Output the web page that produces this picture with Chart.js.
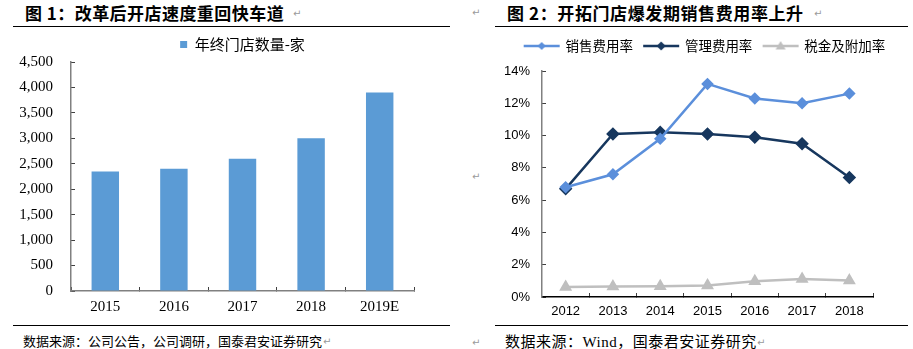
<!DOCTYPE html>
<html><head><meta charset="utf-8">
<script src="https://cdn.jsdelivr.net/npm/chart.js@4.4.1/dist/chart.umd.min.js"></script>
<style>
html,body{margin:0;padding:0;background:#fff;}
body{width:913px;height:349px;position:relative;overflow:hidden;font-family:"Noto Sans CJK SC",sans-serif;}
.t{position:absolute;white-space:nowrap;line-height:1;}
.title{font-weight:700;font-size:17px;color:#000;}
.foot{font-size:13px;color:#000;}
.rule{position:absolute;height:1px;background:#000;}
.pm{position:absolute;font-size:10px;color:#9a9a9a;font-family:"DejaVu Sans",sans-serif;line-height:1;}
#c1{position:absolute;left:0;top:27px;}
#c2{position:absolute;left:460px;top:28px;}
</style></head>
<body>
<div class="t title" style="left:25px;top:4px;letter-spacing:0.45px;">图 1：改革后开店速度重回快车道</div>
<div class="t title" style="left:507px;top:4px;letter-spacing:0.6px;">图 2：开拓门店爆发期销售费用率上升</div>
<div class="rule" style="left:13px;top:26px;width:437px;"></div>
<div class="rule" style="left:495px;top:26px;width:413px;"></div>
<div class="rule" style="left:13px;top:325px;width:437px;"></div>
<div class="rule" style="left:495px;top:325px;width:413px;"></div>
<div class="t foot" style="left:23px;top:334px;">数据来源：公司公告，公司调研，国泰君安证券研究</div>
<div class="t foot" style="left:505px;top:333px;font-size:15px;letter-spacing:0.5px;">数据来源：<span style="font-family:'Liberation Serif',serif;">Wind</span>，国泰君安证券研究</div>
<span class="pm" style="left:293px;top:9px;">↵</span>
<span class="pm" style="left:472px;top:8px;">↵</span>
<span class="pm" style="left:814px;top:9px;">↵</span>
<span class="pm" style="left:472px;top:172px;">↵</span>
<span class="pm" style="left:323px;top:337px;">↵</span>
<span class="pm" style="left:472px;top:338px;">↵</span>
<span class="pm" style="left:757px;top:338px;">↵</span>
<canvas id="c1" width="460" height="295"></canvas>
<canvas id="c2" width="453" height="294"></canvas>
<script>
// ---- Chart 1 data ----
const storeYears = ['2015', '2016', '2017', '2018', '2019E'];
const storeCounts = [2350, 2400, 2600, 3000, 3900];
const storeLabel = '年终门店数量-家';
const storeTicks = [0, 500, 1000, 1500, 2000, 2500, 3000, 3500, 4000, 4500];

// ---- Chart 2 data ----
const rateYears = ['2012', '2013', '2014', '2015', '2016', '2017', '2018'];
const salesRate = [6.8, 7.6, 9.8, 13.2, 12.3, 12.0, 12.6];
const adminRate = [6.7, 10.1, 10.2, 10.1, 9.9, 9.5, 7.4];
const taxRate = [0.62, 0.65, 0.67, 0.72, 0.98, 1.12, 1.02];
const rateNames = ['销售费用率', '管理费用率', '税金及附加率'];
const rateTicks = [0, 2, 4, 6, 8, 10, 12, 14];

Chart.defaults.animation = false;
Chart.defaults.devicePixelRatio = 1;

const AX = '#808080';
const TK = '#404040';

new Chart(document.getElementById('c1'), {
  type: 'bar',
  data: {
    labels: storeYears,
    datasets: [{
      label: storeLabel,
      data: storeCounts,
      backgroundColor: '#5B9BD5',
      borderWidth: 0,
      categoryPercentage: 0.8,
      barPercentage: 0.5
    }]
  },
  options: {
    responsive: false,
    layout: { padding: { left: 0, right: 46, top: 0, bottom: 0 } },
    plugins: {
      tooltip: { enabled: false },
      legend: {
        position: 'top',
        fullSize: false,
        labels: {
          boxWidth: 7, boxHeight: 7, padding: 10,
          color: '#000',
          font: { family: '"Noto Sans CJK SC", sans-serif', size: 15 }
        }
      }
    },
    scales: {
      x: {
        afterFit(s) { s.height = 31; },
        grid: { display: true, drawOnChartArea: false, offset: true, tickLength: -4, color: TK },
        border: { color: AX, width: 1.5 },
        ticks: { color: '#000', padding: 11, font: { family: '"Liberation Serif", serif', size: 15 } }
      },
      y: {
        min: 0, max: 4500,
        afterFit(s) { s.width = 71; },
        afterBuildTicks(s) { s.ticks = storeTicks.map(v => ({ value: v })); },
        grid: { display: true, drawOnChartArea: false, tickLength: -4, color: TK },
        border: { color: AX, width: 1.5 },
        ticks: {
          color: '#000', padding: 22,
          font: { family: '"Liberation Serif", serif', size: 15 },
          callback: v => v.toLocaleString('en-US')
        }
      }
    }
  }
});

function legendIcon(color, style, r) {
  const c = document.createElement('canvas');
  c.width = 38; c.height = 12;
  const g = c.getContext('2d');
  g.strokeStyle = color; g.lineWidth = 2.5;
  g.beginPath(); g.moveTo(1, 6); g.lineTo(37, 6); g.stroke();
  g.fillStyle = color;
  g.beginPath();
  if (style === 'tri') {
    g.moveTo(19, 6 - r); g.lineTo(19 + r, 6 + r * 0.7); g.lineTo(19 - r, 6 + r * 0.7);
  } else {
    g.moveTo(19, 6 - r); g.lineTo(19 + r, 6); g.lineTo(19, 6 + r); g.lineTo(19 - r, 6);
  }
  g.closePath(); g.fill();
  return c;
}

const colors = ['#5B8FDB', '#17375E', '#BFBFBF'];
const icons = [legendIcon(colors[0], 'dia', 4), legendIcon(colors[1], 'dia', 4.5), legendIcon(colors[2], 'tri', 5)];

const hiddenAxis = {
  display: true,
  grid: { display: false, drawTicks: false },
  border: { display: false },
  ticks: { display: false }
};

new Chart(document.getElementById('c2'), {
  type: 'line',
  data: {
    labels: rateYears,
    datasets: [
      { label: rateNames[0], data: salesRate, borderColor: colors[0], backgroundColor: colors[0], borderWidth: 2.5, pointStyle: 'rectRot', pointRadius: 4.5, tension: 0 },
      { label: rateNames[1], data: adminRate, borderColor: colors[1], backgroundColor: colors[1], borderWidth: 2.5, pointStyle: 'rectRot', pointRadius: 5, tension: 0 },
      { label: rateNames[2], data: taxRate, borderColor: colors[2], backgroundColor: colors[2], borderWidth: 2.5, pointStyle: 'triangle', pointRadius: 5, tension: 0 }
    ]
  },
  options: {
    responsive: false,
    layout: { padding: { left: 45, right: 8, top: 0, bottom: 0 } },
    plugins: {
      tooltip: { enabled: false },
      legend: {
        position: 'top',
        labels: {
          usePointStyle: true,
          pointStyleWidth: 34,
          padding: 11.25,
          color: '#000',
          font: { family: '"Noto Sans CJK SC", sans-serif', size: 13.5 },
          generateLabels(chart) {
            return chart.data.datasets.map((ds, i) => ({
              text: ds.label, pointStyle: icons[i], fillStyle: ds.borderColor,
              strokeStyle: ds.borderColor, lineWidth: 0, hidden: false, datasetIndex: i
            }));
          }
        }
      }
    },
    scales: {
      x: {
        offset: true,
        afterFit(s) { s.height = 25; },
        grid: { display: true, drawOnChartArea: false, offset: true, tickLength: -4, color: TK },
        border: { color: '#000', width: 1.5 },
        ticks: { color: '#000', padding: 11, font: { family: '"Liberation Sans", sans-serif', size: 13 } }
      },
      xTop: Object.assign({ type: 'category', position: 'top', afterFit(s) { s.height = 8.25; } }, hiddenAxis),
      y: {
        min: 0, max: 14,
        afterFit(s) { s.width = 37; },
        afterBuildTicks(s) { s.ticks = rateTicks.map(v => ({ value: v })); },
        grid: { display: true, drawOnChartArea: false, tickLength: -4, color: TK },
        border: { color: AX, width: 1.5 },
        ticks: {
          color: '#000', padding: 16,
          font: { family: '"Liberation Sans", sans-serif', size: 13 },
          callback: v => v + '%'
        }
      },
      yRight: Object.assign({ type: 'linear', position: 'right', afterFit(s) { s.width = 32; } }, hiddenAxis)
    }
  }
});
</script>
</body></html>
